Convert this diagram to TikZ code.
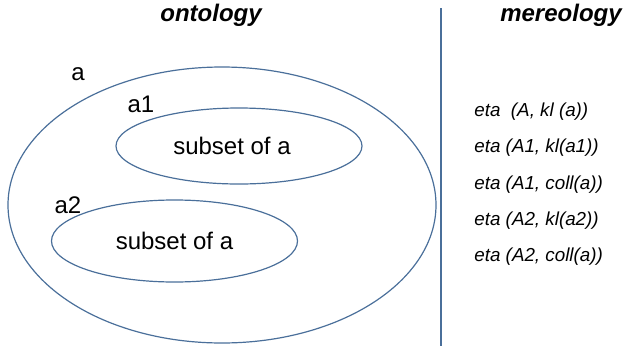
\documentclass[tikz,border=0pt]{standalone}
\usepackage{fontspec}
\setmainfont{Liberation Sans}
\usepackage{tikz}
\usetikzlibrary{shapes.geometric}

\definecolor{setblue}{HTML}{4A6F9A}

\begin{document}
\begin{tikzpicture}[x=0.5pt, y=-0.5pt,
		setline/.style={draw=setblue, line width=0.6pt},
		setshape/.style={setline, ellipse, inner sep=0pt},
		head/.style={font=\fontsize{12}{14}\selectfont\bfseries\itshape},
		setlabel/.style={font=\fontsize{12}{14}\selectfont},
		formula/.style={anchor=west, inner sep=0pt, font=\fontsize{9.4}{11}\selectfont\itshape}]
		\useasboundingbox (0,0) rectangle (623,349);

		% Headings of the two columns
		\node[head] (onto) at (211, 15) {ontology};
		\node[head] (mereo) at (561, 15) {mereology};

		% Separator between the columns
		\coordinate (septop) at (441, 8);
		\coordinate (sepbot) at (441, 346);
		\draw[setline] (septop) -- (sepbot);

		% Sets drawn as ellipses
		\node[setshape, minimum width=214pt, minimum height=138pt] (a) at (222, 205) {};
		\node[setshape, minimum width=123pt, minimum height=38pt,
			label={[setlabel, xshift=-3.5pt]center:subset of a}] (a1) at (239, 146) {};
		\node[setshape, minimum width=123pt, minimum height=41pt, setlabel] (a2) at (174.5, 241) {subset of a};

		% Names of the sets
		\node[setlabel] (lbla) at (78, 74) {a};
		\node[setlabel] (lbla1) at (141, 104) {a1};
		\node[setlabel] (lbla2) at (68, 205) {a2};

		% Mereological statements
		\node[formula] (eta1) at (474, 112) {eta\ \ (A, kl (a))};
		\node[formula] (eta2) at (474, 148) {eta (A1, kl(a1))};
		\node[formula] (eta3) at (474, 185) {eta (A1, coll(a))};
		\node[formula] (eta4) at (474, 221) {eta (A2, kl(a2))};
		\node[formula] (eta5) at (474, 257) {eta (A2, coll(a))};
\end{tikzpicture}
\end{document}
